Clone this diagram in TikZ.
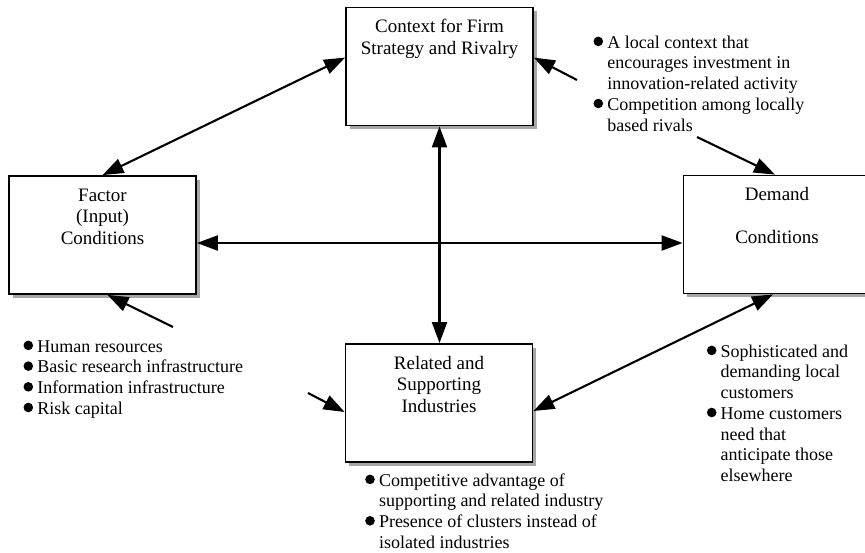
\documentclass[tikz,border=0pt]{standalone}
\usepackage{fontspec}
\setmainfont{Liberation Serif}
\usetikzlibrary{arrows.meta,shadows}
\newcommand{\bul}{\makebox[13.8pt][l]{\tikz[baseline=0pt]\fill[black] (4.8pt,6.8pt) circle[radius=4.8pt];}}
\newcommand{\ind}{\hspace*{13.8pt}}
\newcommand{\fst}{\rule{0pt}{13pt}}
\newcommand{\fstb}{\rule{0pt}{13.6pt}}
\begin{document}
\begin{tikzpicture}[x=1pt,y=-1pt,
  box/.style={draw=black, line width=1.8pt, fill=white, minimum width=187pt,
    minimum height=118pt, inner sep=0pt,
    drop shadow={shadow xshift=3.5pt, shadow yshift=-3.5pt, fill=gray!70, opacity=1}},
  boxtext/.style={font=\fontsize{19}{21.5}\selectfont, align=center, inner sep=0pt, anchor=north},
  list/.style={font=\fontsize{18}{20.7}\selectfont, align=left, inner sep=0pt, anchor=north west},
  conn/.style={line width=2.1pt, draw=black},
  >={Triangle[length=21pt,width=15pt]}]
\fill[white] (0,0) rectangle (865,552);
\useasboundingbox (0,0) rectangle (865,552);

% boxes
\node[box] (ctx) at (439.5,66.5) {};
\node[box] (fac) at (102.5,235) {};
\node[box] (dem) at (777,234.5) {};
\node[box] (rel) at (439,403) {};

% box texts
\node[boxtext] (ctxt) at ([yshift=-12.4pt]ctx.north) {\fstb Context for Firm\\Strategy and Rivalry};
\node[boxtext] (fact) at ([yshift=-12.4pt]fac.north) {\fstb Factor\\(Input)\\Conditions};
\node[boxtext] (demt) at ([yshift=-12.4pt]dem.north) {\fstb Demand\\ \\Conditions};
\node[boxtext] (relt) at ([yshift=-12.4pt]rel.north) {\fstb Related and\\Supporting\\Industries};

% bullet lists
\node[list] (ctxl) at (593.3,35) {\fst\bul A local context that\\
  \ind encourages investment in\\
  \ind innovation-related activity\\
  \bul Competition among locally\\
  \ind based rivals};
\node[list] (facl) at (23.3,339) {\fst\bul Human resources\\
  \bul Basic research infrastructure\\
  \bul Information infrastructure\\
  \bul Risk capital};
\node[list] (deml) at (706.7,344) {\fst\bul Sophisticated and\\
  \ind demanding local\\
  \ind customers\\
  \bul Home customers\\
  \ind need that\\
  \ind anticipate those\\
  \ind elsewhere};
\node[list] (rell) at (365,473) {\fst\bul Competitive advantage of\\
  \ind supporting and related industry\\
  \bul Presence of clusters instead of\\
  \ind isolated industries};

% free tails
\coordinate (t1) at (577,80);
\coordinate (t2) at (697,137);
\coordinate (t3) at (173,327);
\coordinate (t4) at (308,393);

% connectors
\draw[conn,<->] ([yshift=-51pt]ctx.north west) -- (fac.north);
\draw[conn,->] (t1) -- ([yshift=-51pt]ctx.north east);
\draw[conn,->] (t2) -- ([xshift=-2pt]dem.north);
\draw[conn,<->] (ctx.south) -- (ctx.south |- rel.north);
\draw[conn,<->] ([yshift=-8pt]fac.east) -- ([yshift=-8pt]fac.east -| dem.west);
\draw[conn,->] (t3) -- ([xshift=5pt]fac.south);
\draw[conn,->] (t4) -- ([yshift=-9pt]rel.west);
\draw[conn,<->] ([yshift=-8pt]rel.east) -- ([xshift=-4pt]dem.south);
\end{tikzpicture}
\end{document}
